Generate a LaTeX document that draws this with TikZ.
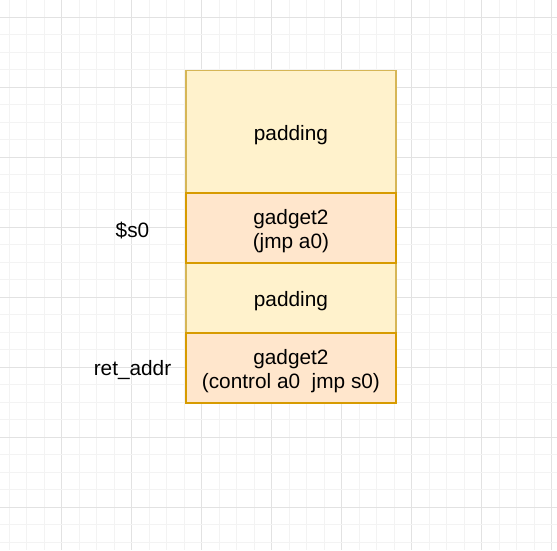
\documentclass[tikz,border=0pt]{standalone}
\usepackage{fontspec}
\setmainfont{Liberation Sans}
\definecolor{padfill}{HTML}{FFF2CC}
\definecolor{padline}{HTML}{D6B656}
\definecolor{gadfill}{HTML}{FFE6CC}
\definecolor{gadline}{HTML}{D79B00}
\definecolor{gridminor}{HTML}{F3F3F3}
\definecolor{gridmajor}{HTML}{E2E2E2}
\tikzset{
  cell/.style={rectangle, line width=1.75pt, anchor=north west, minimum width=210.5pt,
    inner sep=0pt},
  padbox/.style={cell, draw=padline, fill=padfill},
  gadbox/.style={cell, draw=gadline, fill=gadfill},
  celltext/.style={align=center, inner sep=0pt, font=\fontsize{20.8pt}{24pt}\selectfont},
  lbl/.style={font=\fontsize{20.8pt}{24pt}\selectfont, inner sep=0pt}
}
\begin{document}
\begin{tikzpicture}[x=1pt,y=-1pt]
\useasboundingbox (0,0) rectangle (557,550);
\fill[white] (0,0) rectangle (557,550);
% grid
\foreach \k in {0,...,31} {
  \pgfmathsetmacro{\xx}{9.3+17.5*\k}
  \pgfmathtruncatemacro{\m}{mod(\k,4)}
  \ifnum\m=3
    \draw[gridmajor, line width=1pt] (\xx,0) -- (\xx,550);
  \else
    \draw[gridminor, line width=1pt] (\xx,0) -- (\xx,550);
  \fi
}
\foreach \k in {0,...,30} {
  \pgfmathsetmacro{\yy}{17.3+17.5*\k}
  \pgfmathtruncatemacro{\m}{mod(\k,4)}
  \ifnum\m=0
    \draw[gridmajor, line width=1pt] (0,\yy) -- (557,\yy);
  \else
    \draw[gridminor, line width=1pt] (0,\yy) -- (557,\yy);
  \fi
}
% stack
\node[padbox, minimum height=122.5pt] (p1) at (184.8,69.5) {};
\node[padbox, minimum height=70pt] (p2) at (184.8,262) {};
\node[gadbox, minimum height=70pt] (g1) at (184.8,192) {};
\node[gadbox, minimum height=70pt] (g2) at (184.8,332) {};
\node[celltext] (p1t) at ([yshift=-3pt]p1.center) {padding};
\node[celltext] (p2t) at ([yshift=-3pt]p2.center) {padding};
\node[celltext] (g1t) at ([yshift=-3pt]g1.center) {gadget2\\(jmp a0)};
\node[celltext] (g2t) at ([yshift=-3pt]g2.center) {gadget2\\(control a0\ \ jmp s0)};
% labels
\node[lbl] (s0) at (132.5,230.5) {\$s0};
\node[lbl] (ret) at (132.5,370.5) {ret\_addr};
\end{tikzpicture}
\end{document}
